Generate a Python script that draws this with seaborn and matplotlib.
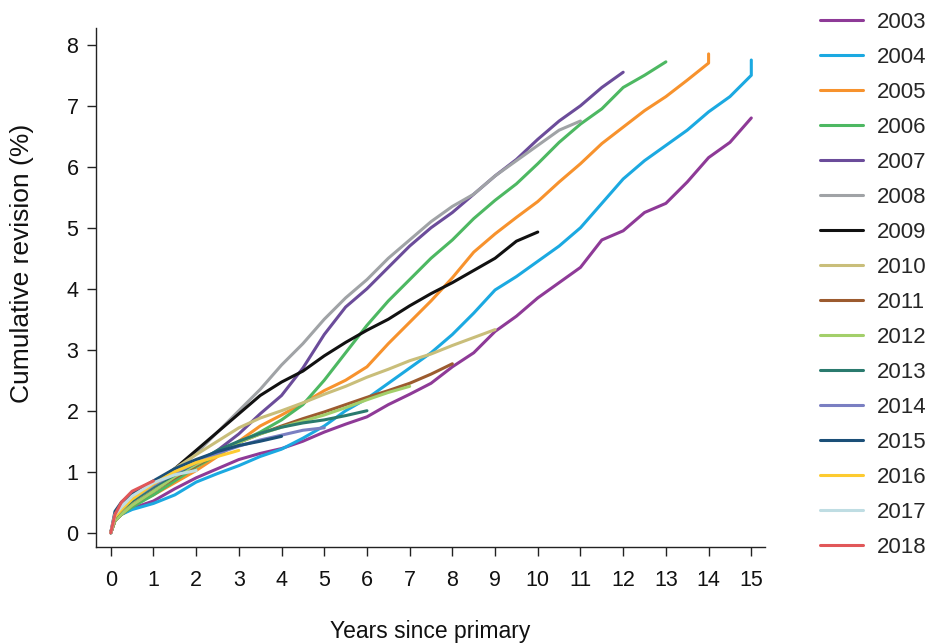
import matplotlib
matplotlib.use("Agg")
import matplotlib.pyplot as plt
import seaborn as sns
import pandas as pd

# ---- data ----
years = [0, 0.1, 0.25, 0.5, 1, 1.5, 2, 2.5, 3, 3.5, 4, 4.5, 5, 5.5, 6, 6.5, 7, 7.5,
         8, 8.5, 9, 9.5, 10, 10.5, 11, 11.5, 12, 12.5, 13, 13.5, 14, 14.5, 15]

cohorts = ["2003", "2004", "2005", "2006", "2007", "2008", "2009", "2010",
           "2011", "2012", "2013", "2014", "2015", "2016", "2017", "2018"]

v2003 = [0, 0.2, 0.3, 0.4, 0.52, 0.72, 0.9, 1.05, 1.2, 1.3, 1.38, 1.5, 1.65, 1.78, 1.9, 2.1,
         2.27, 2.45, 2.72, 2.95, 3.3, 3.55, 3.85, 4.1, 4.35, 4.8, 4.95, 5.25, 5.4, 5.75, 6.15, 6.4, 6.8]
v2004 = [0, 0.2, 0.3, 0.38, 0.48, 0.62, 0.83, 0.97, 1.1, 1.25, 1.37, 1.55, 1.75, 2.0, 2.2, 2.45,
         2.7, 2.95, 3.25, 3.6, 3.98, 4.2, 4.45, 4.7, 5.0, 5.4, 5.8, 6.1, 6.35, 6.6, 6.9, 7.15, 7.5]
v2005 = [0, 0.2, 0.32, 0.45, 0.62, 0.82, 1.02, 1.25, 1.5, 1.75, 1.93, 2.12, 2.33, 2.5, 2.72, 3.1,
         3.45, 3.8, 4.18, 4.6, 4.9, 5.17, 5.43, 5.75, 6.05, 6.38, 6.65, 6.92, 7.15, 7.42, 7.7]
v2006 = [0, 0.2, 0.3, 0.42, 0.62, 0.85, 1.08, 1.28, 1.48, 1.65, 1.85, 2.1, 2.5, 2.95, 3.4, 3.8,
         4.15, 4.5, 4.8, 5.15, 5.45, 5.72, 6.05, 6.4, 6.7, 6.95, 7.3, 7.5, 7.72]
v2007 = [0, 0.22, 0.33, 0.47, 0.7, 0.9, 1.12, 1.35, 1.62, 1.95, 2.25, 2.7, 3.25, 3.7, 4.0, 4.35,
         4.7, 5.0, 5.25, 5.55, 5.85, 6.12, 6.45, 6.75, 7.0, 7.3, 7.55]
v2008 = [0, 0.22, 0.35, 0.5, 0.75, 0.98, 1.3, 1.65, 2.0, 2.35, 2.75, 3.1, 3.5, 3.85, 4.15, 4.5,
         4.8, 5.1, 5.35, 5.55, 5.85, 6.1, 6.35, 6.6, 6.75]
v2009 = [0, 0.22, 0.35, 0.52, 0.8, 1.05, 1.35, 1.65, 1.95, 2.25, 2.47, 2.65, 2.9, 3.12, 3.32, 3.5,
         3.72, 3.92, 4.1, 4.3, 4.5, 4.78, 4.93]
v2010 = [0, 0.22, 0.33, 0.5, 0.78, 1.05, 1.28, 1.5, 1.72, 1.88, 2.0, 2.13, 2.27, 2.4, 2.55, 2.68,
         2.82, 2.93, 3.07, 3.2, 3.33]
v2011 = [0, 0.2, 0.3, 0.45, 0.68, 0.9, 1.1, 1.3, 1.48, 1.62, 1.75, 1.87, 1.98, 2.1, 2.22, 2.33,
         2.45, 2.6, 2.77]
v2012 = [0, 0.2, 0.3, 0.45, 0.68, 0.92, 1.12, 1.3, 1.48, 1.62, 1.73, 1.83, 1.93, 2.05, 2.18, 2.3, 2.4]
v2013 = [0, 0.25, 0.38, 0.52, 0.75, 0.95, 1.15, 1.35, 1.5, 1.63, 1.73, 1.8, 1.85, 1.92, 2.0]
v2014 = [0, 0.28, 0.4, 0.55, 0.78, 0.98, 1.15, 1.3, 1.42, 1.52, 1.6, 1.68, 1.72]
v2015 = [0, 0.35, 0.5, 0.65, 0.85, 1.05, 1.2, 1.33, 1.43, 1.5, 1.58]
v2016 = [0, 0.26, 0.38, 0.55, 0.8, 1.0, 1.15, 1.25, 1.35]
v2017 = [0, 0.3, 0.42, 0.6, 0.82, 0.95, 1.02]
v2018 = [0, 0.3, 0.5, 0.68, 0.85]

# final revision steps at the last observation
final_step_year = {"2004": 15, "2005": 14}
final_step_value = {"2004": 7.75, "2005": 7.85}

series = [v2003, v2004, v2005, v2006, v2007, v2008, v2009, v2010,
          v2011, v2012, v2013, v2014, v2015, v2016, v2017, v2018]

colors = ["#8E3A97", "#1BA9E1", "#F7922D", "#4DB862", "#6B4C9A", "#A0A3A6",
          "#111111", "#C9BE7A", "#9C5B2F", "#A3CF6A", "#2A7A6E", "#7A7FC2",
          "#1B4F78", "#FDCB30", "#BFDDE3", "#E15759"]

rows = []
for c, vals in zip(cohorts, series):
    for t, v in zip(years, vals):
        rows.append({"years": t, "value": v, "cohort": c})
    if c in final_step_year:
        rows.append({"years": final_step_year[c], "value": final_step_value[c], "cohort": c})
df = pd.DataFrame(rows)

sns.set_theme(style="ticks")
plt.rcParams["font.family"] = ["Liberation Sans", "DejaVu Sans"]

fig = plt.figure(figsize=(9.3, 6.44), dpi=100)
ax = fig.add_axes([0.103, 0.151, 0.720, 0.806])

sns.lineplot(data=df, x="years", y="value", hue="cohort", hue_order=cohorts,
             palette=dict(zip(cohorts, colors)), estimator=None, sort=False,
             linewidth=2.2, ax=ax, legend=True)

ax.set_xlim(-0.35, 15.33)
ax.set_ylim(-0.23, 8.28)
ax.set_xticks(range(0, 16))
ax.set_yticks(range(0, 9))
ax.tick_params(axis="both", labelsize=15.5, length=6.5, width=1, color="#222222",
               labelcolor="#111111")
ax.tick_params(axis="x", pad=10)
ax.tick_params(axis="y", pad=6)
for s in ["top", "right"]:
    ax.spines[s].set_visible(False)
for s in ["left", "bottom"]:
    ax.spines[s].set_linewidth(1.0)
    ax.spines[s].set_color("#222222")

ax.set_xlabel("Years since primary", fontsize=16.5, color="#111111")
ax.set_ylabel("Cumulative revision (%)", fontsize=19, color="#111111")
ax.xaxis.set_label_coords(0.5, -0.142)
ax.yaxis.set_label_coords(-0.093, 0.545)

handles, labels = ax.get_legend_handles_labels()
for h in handles:
    h.set_linewidth(2.2)
ax.legend(handles, labels, loc="upper left", bbox_to_anchor=(0.872, 0.995),
          bbox_transform=fig.transFigure, frameon=False, fontsize=16,
          handlelength=1.95, handletextpad=0.6, labelspacing=0.63, borderaxespad=0)

fig.savefig("out.png", dpi=100)
